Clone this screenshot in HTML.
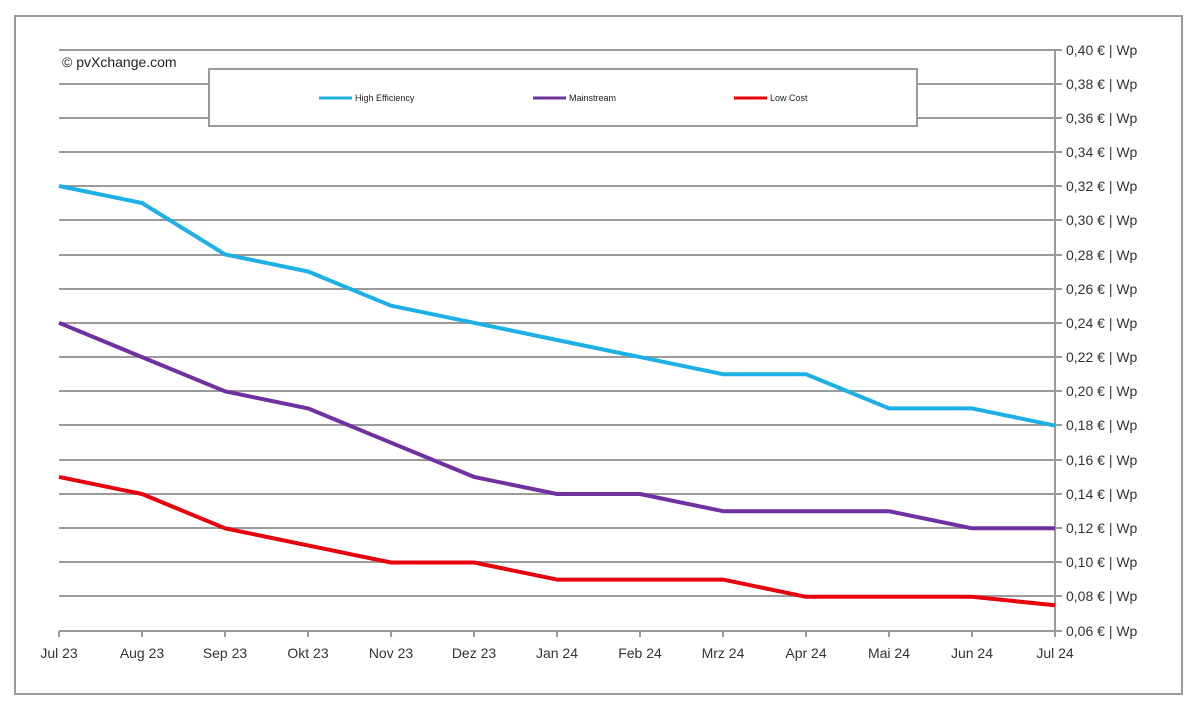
<!DOCTYPE html>
<html><head><style>body{margin:0;background:#fff}svg{display:block;font-family:"Liberation Sans",sans-serif}</style></head><body>
<svg width="1200" height="710" viewBox="0 0 1200 710">
<rect x="15" y="16" width="1167" height="678" fill="#fff" stroke="#9a9a9a" stroke-width="2"/>
<g stroke="#9a9a9a" stroke-width="2">
<line x1="59" y1="50" x2="1062" y2="50"/><line x1="59" y1="84" x2="1062" y2="84"/><line x1="59" y1="118" x2="1062" y2="118"/><line x1="59" y1="152" x2="1062" y2="152"/><line x1="59" y1="186" x2="1062" y2="186"/><line x1="59" y1="220" x2="1062" y2="220"/><line x1="59" y1="255" x2="1062" y2="255"/><line x1="59" y1="289" x2="1062" y2="289"/><line x1="59" y1="323" x2="1062" y2="323"/><line x1="59" y1="357" x2="1062" y2="357"/><line x1="59" y1="391" x2="1062" y2="391"/><line x1="59" y1="425" x2="1062" y2="425"/><line x1="59" y1="460" x2="1062" y2="460"/><line x1="59" y1="494" x2="1062" y2="494"/><line x1="59" y1="528" x2="1062" y2="528"/><line x1="59" y1="562" x2="1062" y2="562"/><line x1="59" y1="596" x2="1062" y2="596"/><line x1="59" y1="631" x2="1062" y2="631"/>
<line x1="1055" y1="50" x2="1055" y2="631"/>
<line x1="59" y1="631" x2="59" y2="637"/><line x1="142" y1="631" x2="142" y2="637"/><line x1="225" y1="631" x2="225" y2="637"/><line x1="308" y1="631" x2="308" y2="637"/><line x1="391" y1="631" x2="391" y2="637"/><line x1="474" y1="631" x2="474" y2="637"/><line x1="557" y1="631" x2="557" y2="637"/><line x1="640" y1="631" x2="640" y2="637"/><line x1="723" y1="631" x2="723" y2="637"/><line x1="806" y1="631" x2="806" y2="637"/><line x1="889" y1="631" x2="889" y2="637"/><line x1="972" y1="631" x2="972" y2="637"/><line x1="1055" y1="631" x2="1055" y2="637"/>
</g>
<rect x="209" y="69" width="708" height="57" fill="#fff" stroke="#9a9a9a" stroke-width="2"/>
<text x="62" y="67" font-size="14" fill="#222">© pvXchange.com</text>
<g fill="none" stroke-width="4" stroke-linejoin="round">
<polyline stroke="#1cb0e6" points="59,186 142,203 225,254.4 308,271.5 391,305.7 474,322.8 557,340 640,357.1 723,374.2 806,374.2 889,408.4 972,408.4 1055,425.6"/>
<polyline stroke="#7030a0" points="59,322.8 142,357.1 225,391.3 308,408.4 391,442.7 474,476.9 557,494 640,494 723,511.2 806,511.2 889,511.2 972,528.3 1055,528.3"/>
<polyline stroke="#e8000b" points="59,476.9 142,494 225,528.3 308,545.4 391,562.5 474,562.5 557,579.6 640,579.6 723,579.6 806,596.8 889,596.8 972,596.8 1055,605.3"/>
</g>
<g font-size="9" fill="#222">
<line x1="319" y1="98" x2="352" y2="98" stroke="#1cb0e6" stroke-width="3"/><text x="355" y="101">High Efficiency</text>
<line x1="533" y1="98" x2="566" y2="98" stroke="#7030a0" stroke-width="3"/><text x="569" y="101">Mainstream</text>
<line x1="734" y1="98" x2="767" y2="98" stroke="#e8000b" stroke-width="3"/><text x="770" y="101">Low Cost</text>
</g>
<g font-size="14" fill="#333">
<text x="1066" y="55">0,40 € | Wp</text><text x="1066" y="89">0,38 € | Wp</text><text x="1066" y="123">0,36 € | Wp</text><text x="1066" y="157">0,34 € | Wp</text><text x="1066" y="191">0,32 € | Wp</text><text x="1066" y="225">0,30 € | Wp</text><text x="1066" y="260">0,28 € | Wp</text><text x="1066" y="294">0,26 € | Wp</text><text x="1066" y="328">0,24 € | Wp</text><text x="1066" y="362">0,22 € | Wp</text><text x="1066" y="396">0,20 € | Wp</text><text x="1066" y="430">0,18 € | Wp</text><text x="1066" y="465">0,16 € | Wp</text><text x="1066" y="499">0,14 € | Wp</text><text x="1066" y="533">0,12 € | Wp</text><text x="1066" y="567">0,10 € | Wp</text><text x="1066" y="601">0,08 € | Wp</text><text x="1066" y="636">0,06 € | Wp</text>
</g>
<g font-size="14" fill="#333" text-anchor="middle">
<text x="59" y="658">Jul 23</text><text x="142" y="658">Aug 23</text><text x="225" y="658">Sep 23</text><text x="308" y="658">Okt 23</text><text x="391" y="658">Nov 23</text><text x="474" y="658">Dez 23</text><text x="557" y="658">Jan 24</text><text x="640" y="658">Feb 24</text><text x="723" y="658">Mrz 24</text><text x="806" y="658">Apr 24</text><text x="889" y="658">Mai 24</text><text x="972" y="658">Jun 24</text><text x="1055" y="658">Jul 24</text>
</g>
</svg>
</body></html>
